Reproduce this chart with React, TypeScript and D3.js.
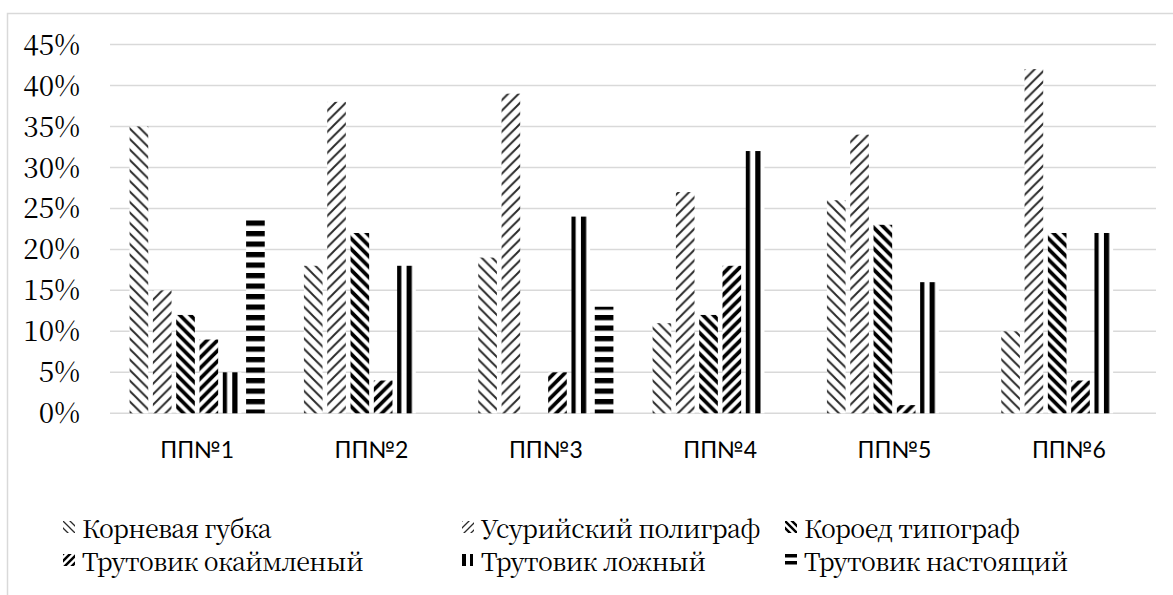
import React from 'react';
import * as d3 from 'd3';

// Sample plots
const categories = ['ПП№1', 'ПП№2', 'ПП№3', 'ПП№4', 'ПП№5', 'ПП№6'];

// Pest / disease names (legend order)
const seriesNames = [
  'Корневая губка',
  'Усурийский полиграф',
  'Короед типограф',
  'Трутовик окаймленый',
  'Трутовик ложный',
  'Трутовик настоящий',
];

// Share of damaged trees per plot, %
const kornevayaGubka = [35, 18, 19, 11, 26, 10];
const ussuriyskiyPoligraf = [15, 38, 39, 27, 34, 42];
const koroedTipograf = [12, 22, 0, 12, 23, 22];
const trutovikOkaymleny = [9, 4, 5, 18, 1, 4];
const trutovikLozhny = [5, 18, 24, 32, 16, 22];
const trutovikNastoyashchiy = [24, 0, 13, 0, 0, 0];

const seriesValues = [
  kornevayaGubka,
  ussuriyskiyPoligraf,
  koroedTipograf,
  trutovikOkaymleny,
  trutovikLozhny,
  trutovikNastoyashchiy,
];

const yTicks = [0, 5, 10, 15, 20, 25, 30, 35, 40, 45];

// Hatch style of each series
type Hatch = 'ltDn' | 'ltUp' | 'dkDn' | 'dkUp' | 'vert' | 'horz';
const hatches: Hatch[] = ['ltDn', 'ltUp', 'dkDn', 'dkUp', 'vert', 'horz'];

const W = 1173;
const H = 595;
const plot = { left: 110, right: 1156, top: 44.5, bottom: 413.3 };

const SERIF = "'Noto Serif CJK SC', 'DejaVu Serif', serif";
const SANS = "Lato, 'Open Sans', sans-serif";

function HatchPattern({
  id,
  kind,
  size,
  ox = 0,
  oy = 0,
}: {
  id: string;
  kind: Hatch;
  size: number;
  ox?: number;
  oy?: number;
}) {
  const P = size;
  const light = kind === 'ltDn' || kind === 'ltUp';
  const sw = light ? ((P / 4) / Math.SQRT2) * 1.05 : (P / 2) / Math.SQRT2;
  const color = light ? '#2a2a2a' : '#000';
  let content: React.ReactNode = null;
  if (kind === 'ltDn' || kind === 'dkDn') {
    const d = `M${-P},${-P}L${2 * P},${2 * P}M${-P},0L${P},${2 * P}M0,${-P}L${2 * P},${P}`;
    content = <path d={d} stroke={color} strokeWidth={sw} />;
  } else if (kind === 'ltUp' || kind === 'dkUp') {
    const d = `M${-P},${2 * P}L${2 * P},${-P}M${-P},${P}L${P},${-P}M0,${2 * P}L${2 * P},0`;
    content = <path d={d} stroke={color} strokeWidth={sw} />;
  } else if (kind === 'vert') {
    content = <rect x={0} y={0} width={P / 2} height={P} fill="#000" />;
  } else {
    content = <rect x={0} y={0} width={P} height={P / 2} fill="#000" />;
  }
  return (
    <pattern id={id} patternUnits="userSpaceOnUse" x={ox} y={oy} width={P} height={P}>
      <rect width={P} height={P} fill="#fff" />
      {content}
    </pattern>
  );
}

export default function App() {
  const x0 = d3
    .scaleBand<string>()
    .domain(categories)
    .range([plot.left, plot.right])
    .paddingInner(0.198)
    .paddingOuter(0.099);
  const x1 = d3
    .scaleBand<string>()
    .domain(seriesNames)
    .range([0, x0.bandwidth()])
    .paddingInner(0.2)
    .paddingOuter(0.1);
  const y = d3.scaleLinear().domain([0, 45]).range([plot.bottom, plot.top]);

  const legendCols = [63, 462, 785];
  const legendRows = [538, 571];
  const keyW = 12;
  const keyH = 12;
  const keyPos = seriesNames.map((_, i) => ({
    x: legendCols[i % 3],
    y: legendRows[Math.floor(i / 3)] - 17,
  }));

  return (
    <svg
      width={W}
      height={H}
      style={{ position: 'absolute', left: 0, top: 0, background: '#fff' }}
    >
      <defs>
        {hatches.map((h, i) => (
          <HatchPattern key={`b${i}`} id={`hatch-bar-${i}`} kind={h} size={10.5} />
        ))}
        {hatches.map((h, i) => (
          <HatchPattern
            key={`l${i}`}
            id={`hatch-key-${i}`}
            kind={h}
            size={h === 'vert' ? 8 : 7}
            ox={keyPos[i].x}
            oy={keyPos[i].y}
          />
        ))}
      </defs>

      <rect x={0} y={0} width={W} height={H} fill="#fff" />
      {/* chart frame */}
      <rect
        x={7.5}
        y={13.5}
        width={W + 40}
        height={H + 40}
        fill="none"
        stroke="#d9d9d9"
        strokeWidth={1.5}
      />

      {/* gridlines */}
      {yTicks.map((t) => (
        <line
          key={t}
          x1={plot.left}
          x2={plot.right}
          y1={y(t)}
          y2={y(t)}
          stroke="#d9d9d9"
          strokeWidth={1.5}
        />
      ))}

      {/* y tick labels */}
      {yTicks.map((t) => (
        <text
          key={`yl${t}`}
          x={80}
          y={y(t)}
          dy="0.36em"
          textAnchor="end"
          style={{ fontFamily: SERIF }}
          fontSize={28}
          fill="#000"
        >
          {`${t}%`}
        </text>
      ))}

      {/* bars */}
      {categories.map((c, ci) => (
        <g key={c} transform={`translate(${x0(c)},0)`}>
          {seriesNames.map((s, si) => {
            const v = seriesValues[si][ci];
            if (!v) return null;
            return (
              <rect
                key={s}
                x={x1(s)}
                y={y(v)}
                width={x1.bandwidth()}
                height={y(0) - y(v)}
                fill={`url(#hatch-bar-${si})`}
              />
            );
          })}
        </g>
      ))}

      {/* category labels */}
      {categories.map((c) => (
        <text
          key={`cl${c}`}
          x={(x0(c) as number) + x0.bandwidth() / 2}
          y={458}
          textAnchor="middle"
          style={{ fontFamily: SANS }}
          fontSize={23}
          fill="#000"
        >
          {c}
        </text>
      ))}

      {/* legend */}
      {seriesNames.map((s, i) => {
        const k = keyPos[i];
        return (
          <g key={`lg${i}`}>
            <rect
              x={k.x}
              y={k.y}
              width={hatches[i] === 'vert' ? 11 : keyW}
              height={keyH}
              fill={`url(#hatch-key-${i})`}
            />
            <text
              x={k.x + 19}
              y={legendRows[Math.floor(i / 3)]}
              style={{ fontFamily: SERIF, letterSpacing: '-0.6px' }}
              fontSize={25}
              fill="#000"
            >
              {s}
            </text>
          </g>
        );
      })}
    </svg>
  );
}
